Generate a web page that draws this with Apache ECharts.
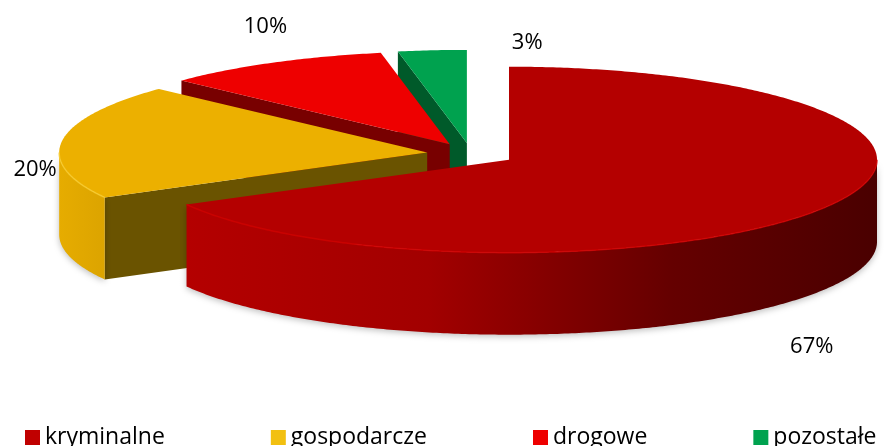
<!DOCTYPE html>
<html><head><meta charset="utf-8">
<script src="https://cdn.jsdelivr.net/npm/echarts@6/dist/echarts.min.js"></script>
<style>html,body{margin:0;padding:0;background:#fff}#c{width:886px;height:446px}</style>
</head><body><div id="c"></div>
<script>
// ---- data ----
const categories = ['kryminalne', 'gospodarcze', 'drogowe', 'pozostałe'];
const values = [67, 20, 10, 3];

// ---- styles ----
const topColors = ['#B40000', '#ECB000', '#EE0000', '#00A24F'];
const rimColors = ['#D20000', '#F8CC30', '#FF2020', '#20B868'];
const radialWallColors = ['#700000', '#6A5300', '#780000', '#005A2A'];
const outerWallStops = [
  [[0, '#B40000'], [0.35, '#A20000'], [0.5, '#880000'], [0.7, '#650000'], [1, '#4A0000']],
  [[0, '#E6AC00'], [1, '#DCA400']],
  [[0, '#C00000'], [1, '#900000']],
  [[0, '#008C44'], [1, '#007038']]
];
const legendColors = ['#C00000', '#F2C010', '#EE0000', '#00A24F'];

// ---- layout ----
const layout = { cx: 471, cy: 154, rx: 368, ry: 93, depth: 82, explode: 0.12 };
const labelShift = [[-14, 140], [-27, 29], [-7, -36], [95, -8]];

const total = values.reduce((a, b) => a + b, 0);
const percentLabels = values.map(v => Math.round(v / total * 100) + '%');
const starts = [], ends = [];
(function () {
  let acc = 0;
  values.forEach(v => { starts.push(acc / total * 2 * Math.PI); acc += v; ends.push(acc / total * 2 * Math.PI); });
})();
const mids = starts.map((s, i) => (s + ends[i]) / 2);
const order = mids.map((m, i) => i).sort((a, b) => (-Math.cos(mids[a])) - (-Math.cos(mids[b])));
const rank = [];
order.forEach((idx, r) => { rank[idx] = r; });

function makeRender(i) {
  return function (params, api) {
    const L = layout;
    const a0 = starts[i], a1 = ends[i], m = mids[i];
    const cx = L.cx + Math.sin(m) * L.rx * L.explode;
    const cy = L.cy - Math.cos(m) * L.ry * L.explode;
    const D = L.depth;
    const P = (t, dy) => [cx + L.rx * Math.sin(t), cy - L.ry * Math.cos(t) + (dy || 0)];
    const arc = (s, e, dy) => {
      const n = Math.max(2, Math.ceil((e - s) / 0.01));
      const pts = [];
      for (let k = 0; k <= n; k++) pts.push(P(s + (e - s) * k / n, dy));
      return pts;
    };
    const z = rank[i] * 10;
    const children = [];
    // radial walls (only those facing viewer)
    if (Math.sin(a0) < -1e-6) {
      children.push({ type: 'polygon', z2: z + 1, shape: { points: [[cx, cy], P(a0), P(a0, D), [cx, cy + D]] },
        style: { fill: radialWallColors[i] } });
    }
    if (Math.sin(a1) > 1e-6) {
      children.push({ type: 'polygon', z2: z + 1, shape: { points: [[cx, cy], P(a1), P(a1, D), [cx, cy + D]] },
        style: { fill: radialWallColors[i] } });
    }
    // outer wall (front half)
    const s = Math.max(a0, Math.PI / 2), e = Math.min(a1, 1.5 * Math.PI);
    if (e > s) {
      const pts = arc(s, e, 0).concat(arc(s, e, D).reverse());
      children.push({ type: 'polygon', z2: z + 2, shape: { points: pts },
        style: {
          fill: new echarts.graphic.LinearGradient(0, 0, 1, 0,
            outerWallStops[i].map(st => ({ offset: st[0], color: st[1] }))),
          shadowBlur: 6, shadowColor: 'rgba(0,0,0,0.25)', shadowOffsetY: 2
        } });
    }
    // top face
    children.push({ type: 'polygon', z2: z + 3, shape: { points: [[cx, cy]].concat(arc(a0, a1, 0)) },
      style: { fill: topColors[i] } });
    // rim highlight on front edge
    if (e > s) {
      children.push({ type: 'polyline', z2: z + 4, shape: { points: arc(s, e, 0) },
        style: { stroke: rimColors[i], lineWidth: 1.5, fill: null, opacity: 0.8 } });
    }
    // label
    const rim = P(m, 0);
    children.push({ type: 'text', z2: 100,
      style: { text: percentLabels[i], x: rim[0] + labelShift[i][0], y: rim[1] + labelShift[i][1],
        font: '22px "Open Sans"', fill: '#000', align: 'center', verticalAlign: 'middle',
        textAlign: 'center', textVerticalAlign: 'middle' } });
    return { type: 'group', children: children };
  };
}

const chart = echarts.init(document.getElementById('c'), null, { renderer: 'canvas' });
chart.setOption({
  animation: false,
  backgroundColor: '#fff',
  legend: {
    data: categories,
    left: 20, top: 421,
    itemGap: 106, itemWidth: 15, itemHeight: 15, icon: 'rect',
    textStyle: { fontFamily: 'Open Sans', fontSize: 23, color: '#000' }
  },
  series: categories.map((name, i) => ({
    type: 'custom',
    name: name,
    coordinateSystem: 'none',
    itemStyle: { color: legendColors[i] },
    renderItem: makeRender(i),
    data: [values[i]]
  }))
});
</script>
</body></html>
